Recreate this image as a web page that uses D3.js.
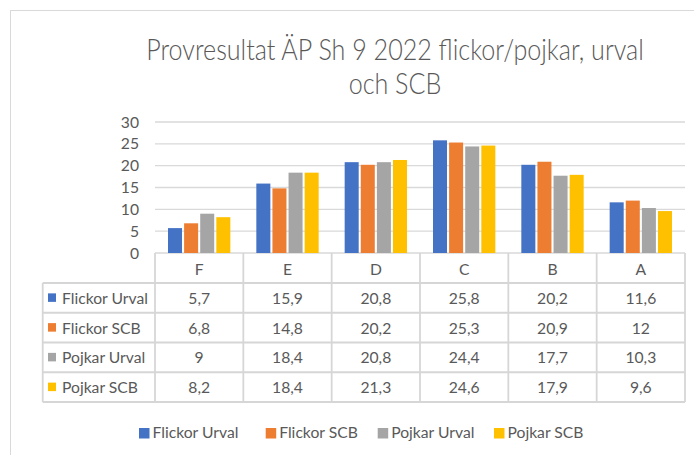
<!DOCTYPE html>
<html><head><meta charset="utf-8">
<script src="https://cdn.jsdelivr.net/npm/d3@7"></script>
<style>html,body{margin:0;padding:0;background:#fff;overflow:hidden}text{font-family:Lato,"Open Sans",sans-serif;fill:#595959}</style>
</head><body><svg id="c" width="694" height="455"></svg>
<script>
const categories = ["F","E","D","C","B","A"];
const seriesNames = ["Flickor Urval","Flickor SCB","Pojkar Urval","Pojkar SCB"];
const flickorUrval = [5.7,15.9,20.8,25.8,20.2,11.6];
const flickorSCB   = [6.8,14.8,20.2,25.3,20.9,12];
const pojkarUrval  = [9,18.4,20.8,24.4,17.7,10.3];
const pojkarSCB    = [8.2,18.4,21.3,24.6,17.9,9.6];
const yTicks = [0,5,10,15,20,25,30];
const titleLines = ["Provresultat ÄP Sh 9 2022 flickor/pojkar, urval","och SCB"];
const colors = ["#4472C4","#ED7D31","#A5A5A5","#FFC000"];
const series = [flickorUrval, flickorSCB, pojkarUrval, pojkarSCB];
const fmt = v => String(v).replace(".", ",");

const svg = d3.select("#c");
const grid = "#d9d9d9";

function measure(s, size, weight) {
  const t = svg.append("text").style("font-size", size + "px").style("font-weight", weight || 400).text(s);
  const w = t.node().getComputedTextLength(); t.remove(); return w;
}
const FS = 16, TFS = 29;
const sx = 86 / measure("Flickor Urval", FS);
const tsx = 498 / measure(titleLines[0], TFS, 300);

function txt(x, y, s, opt) {
  opt = opt || {};
  return svg.append("text")
    .attr("transform", `translate(${x},${y}) scale(${opt.sx || sx},1)`)
    .attr("text-anchor", opt.anchor || "start")
    .style("font-size", (opt.size || FS) + "px")
    .style("font-weight", opt.weight || 400)
    .text(s);
}

// frame
svg.append("rect").attr("x", 10.5).attr("y", 10.5).attr("width", 720).attr("height", 470)
  .attr("fill", "none").attr("stroke", grid).attr("stroke-width", 1);

// title
titleLines.forEach((l, i) => txt(395, 60 + i * 34, l, {anchor: "middle", size: TFS, weight: 300, sx: tsx}));

const plotL = 155, plotR = 685;
const y = d3.scaleLinear().domain([0, 30]).range([253, 122]);
const x0 = d3.scaleBand().domain(categories).range([plotL, plotR]);
const x1 = d3.scaleBand().domain(d3.range(series.length)).range([13, x0.bandwidth() - 13]).paddingInner(0.13);

// gridlines
svg.append("g").selectAll("line").data(yTicks).join("line")
  .attr("x1", plotL).attr("x2", plotR).attr("y1", d => y(d)).attr("y2", d => y(d))
  .attr("stroke", grid).attr("stroke-width", 1.3);

// y tick labels
yTicks.forEach(v => txt(139, y(v) + 5.5, String(v), {anchor: "end"}));

// bars
series.forEach((s, si) => {
  svg.append("g").selectAll("rect").data(s).join("rect")
    .attr("x", (d, i) => x0(categories[i]) + x1(si))
    .attr("width", x1.bandwidth())
    .attr("y", d => y(d)).attr("height", d => y(0) - y(d))
    .attr("fill", colors[si]);
});

// data table
const tblL = 42.7, rowTop = 283, rowH = 29.75, hdrTop = 253;
const tg = svg.append("g").attr("stroke", "#d6d6d6").attr("stroke-width", 1.8);
const colEdges = categories.map(c => x0(c)).concat([plotR]);
colEdges.forEach(xv => tg.append("line").attr("x1", xv).attr("x2", xv).attr("y1", hdrTop).attr("y2", rowTop + 4 * rowH));
tg.append("line").attr("x1", tblL).attr("x2", tblL).attr("y1", rowTop).attr("y2", rowTop + 4 * rowH);
for (let r = 0; r <= 4; r++) {
  tg.append("line").attr("x1", tblL).attr("x2", plotR).attr("y1", rowTop + r * rowH).attr("y2", rowTop + r * rowH);
}
categories.forEach(c => txt(x0(c) + x0.bandwidth() / 2, 274.5, c, {anchor: "middle"}));
series.forEach((s, si) => {
  const cy = rowTop + si * rowH + rowH / 2;
  svg.append("rect").attr("x", 48).attr("y", cy - 4.5).attr("width", 8).attr("height", 8.5).attr("fill", colors[si]);
  txt(62, cy + 6, seriesNames[si]);
  s.forEach((v, i) => txt(x0(categories[i]) + x0.bandwidth() / 2, cy + 6, fmt(v), {anchor: "middle"}));
});

// legend
const legendX = [139, 265.7, 377.7, 494];
seriesNames.forEach((n, i) => {
  svg.append("rect").attr("x", legendX[i]).attr("y", 428).attr("width", 10.5).attr("height", 10.5).attr("fill", colors[i]);
  txt(legendX[i] + 13.5, 438.3, n);
});
</script></body></html>
